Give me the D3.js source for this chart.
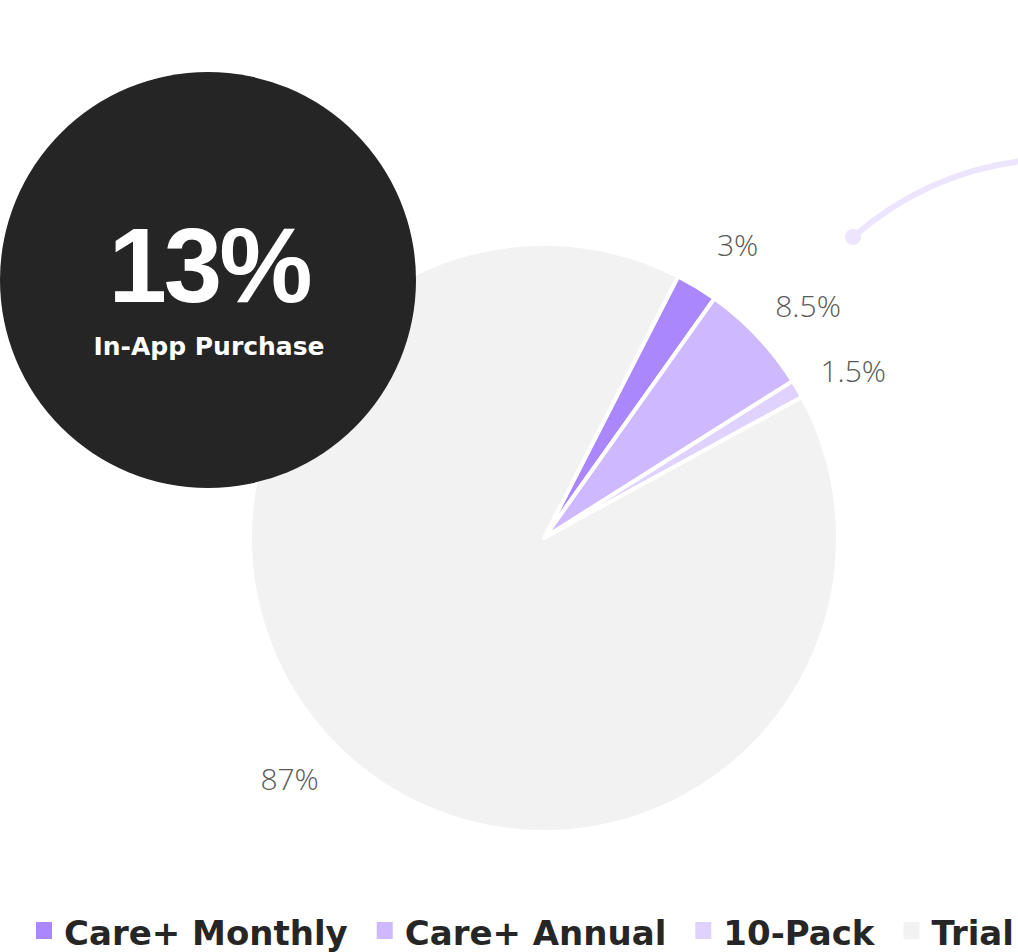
<!DOCTYPE html>
<html>
<head>
<meta charset="utf-8">
<script src="https://cdn.jsdelivr.net/npm/d3@7"></script>
<style>
  html, body { margin: 0; padding: 0; background: #fff; }
  svg { display: block; }
</style>
</head>
<body>
<svg id="chart" width="1018" height="952"></svg>
<script>
// ---- data ----
const categories = ["Care+ Monthly", "Care+ Annual", "10-Pack", "Trial"];
const sliceValues = [2.3, 6.2, 1.0, 90.5];            // drawn slice sizes
const sliceLabels = ["3%", "8.5%", "1.5%", "87%"];     // printed labels
const colors = ["#ab87fd", "#cfb9fe", "#e0d2fe", "#f2f2f2"];
const headlineValue = "13%";
const headlineText = "In-App Purchase";

const svg = d3.select("#chart");

// decorative curve
svg.append("path")
  .attr("d", "M853,237 Q930,170 1030,160")
  .attr("fill", "none")
  .attr("stroke", "#ece5fd")
  .attr("stroke-width", 6)
  .attr("stroke-linecap", "round");
svg.append("circle").attr("cx", 853).attr("cy", 237).attr("r", 8).attr("fill", "#ece5fd");

// pie
const cx = 544, cy = 538, R = 294;
const startA = 27.15 * Math.PI / 180;
const pie = d3.pie().sort(null).value(d => d.v)
  .startAngle(startA).endAngle(startA + 2 * Math.PI);
const data = categories.map((c, i) => ({ c, v: sliceValues[i], label: sliceLabels[i], color: colors[i] }));
const arcs = pie(data);
const arc = d3.arc().innerRadius(0).outerRadius(R);

const g = svg.append("g").attr("transform", `translate(${cx},${cy})`);
g.selectAll("path.slice").data(arcs).join("path")
  .attr("class", "slice")
  .attr("d", arc)
  .attr("fill", d => d.data.color)
  .attr("stroke", "#fff")
  .attr("stroke-width", 4)
  .attr("stroke-linejoin", "round");

// labels
const labelR = 351, offset = 2.2 * Math.PI / 180;
g.selectAll("text.lbl").data(arcs).join("text")
  .attr("class", "lbl")
  .attr("x", d => labelR * Math.sin((d.startAngle + d.endAngle) / 2 + offset))
  .attr("y", d => -labelR * Math.cos((d.startAngle + d.endAngle) / 2 + offset))
  .attr("dy", "0.35em")
  .attr("text-anchor", "middle")
  .attr("font-family", "'Open Sans', sans-serif")
  .attr("font-weight", 300)
  .attr("font-size", 30)
  .attr("fill", "#5a5a56")
  .text(d => d.data.label);

// black circle
svg.append("circle").attr("cx", 208).attr("cy", 280).attr("r", 208).attr("fill", "#252525");
svg.append("text")
  .attr("x", 209).attr("y", 302)
  .attr("text-anchor", "middle")
  .attr("font-family", "'Liberation Sans', Arial, sans-serif")
  .attr("font-weight", 700)
  .attr("font-size", 105)
  .attr("letter-spacing", -3)
  .attr("fill", "#fff")
  .text(headlineValue);
svg.append("text")
  .attr("x", 209).attr("y", 355)
  .attr("text-anchor", "middle")
  .attr("font-family", "'DejaVu Sans', sans-serif")
  .attr("font-weight", 700)
  .attr("font-size", 25)
  .attr("fill", "#fff")
  .text(headlineText);

// legend
const legend = svg.append("g");
let lx = 36;
categories.forEach((c, i) => {
  legend.append("rect").attr("x", lx).attr("y", 922).attr("width", 16).attr("height", 17).attr("fill", colors[i]);
  const t = legend.append("text")
    .attr("x", lx + 28).attr("y", 945)
    .attr("font-family", "'DejaVu Sans', sans-serif")
    .attr("font-weight", 700)
    .attr("font-size", 34)
    .attr("fill", "#262626")
    .text(c);
  lx = lx + 28 + t.node().getComputedTextLength() + 29;
});
</script>
</body>
</html>
